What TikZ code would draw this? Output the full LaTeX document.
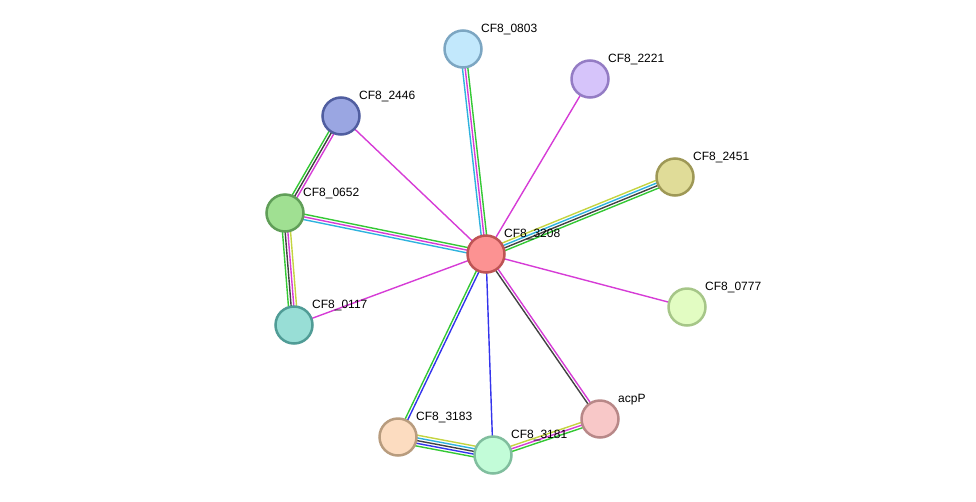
\documentclass[tikz,border=0pt]{standalone}
\usepackage{fontspec}
\setmainfont{Liberation Sans}
\usetikzlibrary{calc,backgrounds}

% evidence colours
\definecolor{evgreen}{RGB}{52,200,52}
\definecolor{evblue}{RGB}{52,52,236}
\definecolor{evblack}{RGB}{66,66,66}
\definecolor{evmagenta}{RGB}{214,60,214}
\definecolor{evcyan}{RGB}{46,178,222}
\definecolor{evyellow}{RGB}{196,212,64}

% node colours
\definecolor{fill3208}{RGB}{252,146,146}\definecolor{line3208}{RGB}{190,84,84}
\definecolor{fill0803}{RGB}{194,232,252}\definecolor{line0803}{RGB}{124,166,194}
\definecolor{fill2221}{RGB}{214,196,250}\definecolor{line2221}{RGB}{148,124,196}
\definecolor{fill2446}{RGB}{154,166,226}\definecolor{line2446}{RGB}{80,94,160}
\definecolor{fill2451}{RGB}{224,220,152}\definecolor{line2451}{RGB}{158,152,86}
\definecolor{fill0652}{RGB}{160,224,146}\definecolor{line0652}{RGB}{96,158,88}
\definecolor{fill0117}{RGB}{152,222,214}\definecolor{line0117}{RGB}{80,156,150}
\definecolor{fill0777}{RGB}{226,252,194}\definecolor{line0777}{RGB}{166,198,136}
\definecolor{fillacpP}{RGB}{248,200,200}\definecolor{lineacpP}{RGB}{184,136,136}
\definecolor{fill3183}{RGB}{252,220,192}\definecolor{line3183}{RGB}{184,156,126}
\definecolor{fill3181}{RGB}{194,252,216}\definecolor{line3181}{RGB}{128,190,158}

\tikzset{
  prot/.style={circle, minimum size=37pt, inner sep=0pt, line width=2.5pt},
  plabel/.style={anchor=base west, inner sep=0pt, font=\fontsize{12}{14}\selectfont},
  link/.style={line width=1.4pt},
}

% parallel evidence lines between two nodes
\newcommand\linkedge[3]{%
  \foreach \col [count=\k] in {#3} {\xdef\nlines{\k}}%
  \foreach \col [count=\k] in {#3} {%
    \pgfmathsetmacro\off{(\k-(\nlines+1)/2)*2.7}%
    \draw[link, \col] ($(#1)!\off pt!90:(#2)$) -- ($(#2)!\off pt!-90:(#1)$);
  }}

\begin{document}
\begin{tikzpicture}[x=1pt, y=-1pt]
  \useasboundingbox (0,0) rectangle (976,501);

  % proteins
  \node[prot, fill=fill3208, draw=line3208] (cf3208) at (486,254) {};
  \node[prot, fill=fill0803, draw=line0803] (cf0803) at (463,49) {};
  \node[prot, fill=fill2221, draw=line2221] (cf2221) at (590,79) {};
  \node[prot, fill=fill2446, draw=line2446] (cf2446) at (341,116) {};
  \node[prot, fill=fill2451, draw=line2451] (cf2451) at (675,177) {};
  \node[prot, fill=fill0652, draw=line0652] (cf0652) at (285,213) {};
  \node[prot, fill=fill0117, draw=line0117] (cf0117) at (294,325) {};
  \node[prot, fill=fill0777, draw=line0777] (cf0777) at (687,307) {};
  \node[prot, fill=fillacpP, draw=lineacpP] (acpP) at (600,419) {};
  \node[prot, fill=fill3183, draw=line3183] (cf3183) at (398,437) {};
  \node[prot, fill=fill3181, draw=line3181] (cf3181) at (493,455) {};

  % labels
  \node[plabel] (lbl3208) at ($(cf3208)+(18,-17)$) {CF8\_3208};
  \node[plabel] (lbl0803) at ($(cf0803)+(18,-17)$) {CF8\_0803};
  \node[plabel] (lbl2221) at ($(cf2221)+(18,-17)$) {CF8\_2221};
  \node[plabel] (lbl2446) at ($(cf2446)+(18,-17)$) {CF8\_2446};
  \node[plabel] (lbl2451) at ($(cf2451)+(18,-17)$) {CF8\_2451};
  \node[plabel] (lbl0652) at ($(cf0652)+(18,-17)$) {CF8\_0652};
  \node[plabel] (lbl0117) at ($(cf0117)+(18,-17)$) {CF8\_0117};
  \node[plabel] (lbl0777) at ($(cf0777)+(18,-17)$) {CF8\_0777};
  \node[plabel] (lblacpP) at ($(acpP)+(18,-17)$) {acpP};
  \node[plabel] (lbl3183) at ($(cf3183)+(18,-17)$) {CF8\_3183};
  \node[plabel] (lbl3181) at ($(cf3181)+(18,-17)$) {CF8\_3181};

  % edges
  \begin{scope}[on background layer]
    \linkedge{cf3208}{cf0803}{evgreen,evmagenta,evcyan}
    \linkedge{cf3208}{cf2221}{evmagenta}
    \linkedge{cf3208}{cf2446}{evmagenta}
    \linkedge{cf3208}{cf2451}{evgreen,evblack,evcyan,evyellow}
    \linkedge{cf3208}{cf0652}{evgreen,evmagenta,evcyan}
    \linkedge{cf3208}{cf0117}{evmagenta}
    \linkedge{cf3208}{cf0777}{evmagenta}
    \linkedge{cf3208}{acpP}{evblack,evmagenta}
    \linkedge{cf3208}{cf3183}{evgreen,evblue}
    \linkedge{cf3208}{cf3181}{evblue}
    \linkedge{cf2446}{cf0652}{evgreen,evblack,evmagenta}
    \linkedge{cf0652}{cf0117}{evgreen,evblack,evmagenta,evyellow}
    \linkedge{cf3183}{cf3181}{evgreen,evblue,evblack,evcyan,evyellow}
    \linkedge{cf3181}{acpP}{evgreen,evmagenta,evyellow}
  \end{scope}
\end{tikzpicture}
\end{document}
